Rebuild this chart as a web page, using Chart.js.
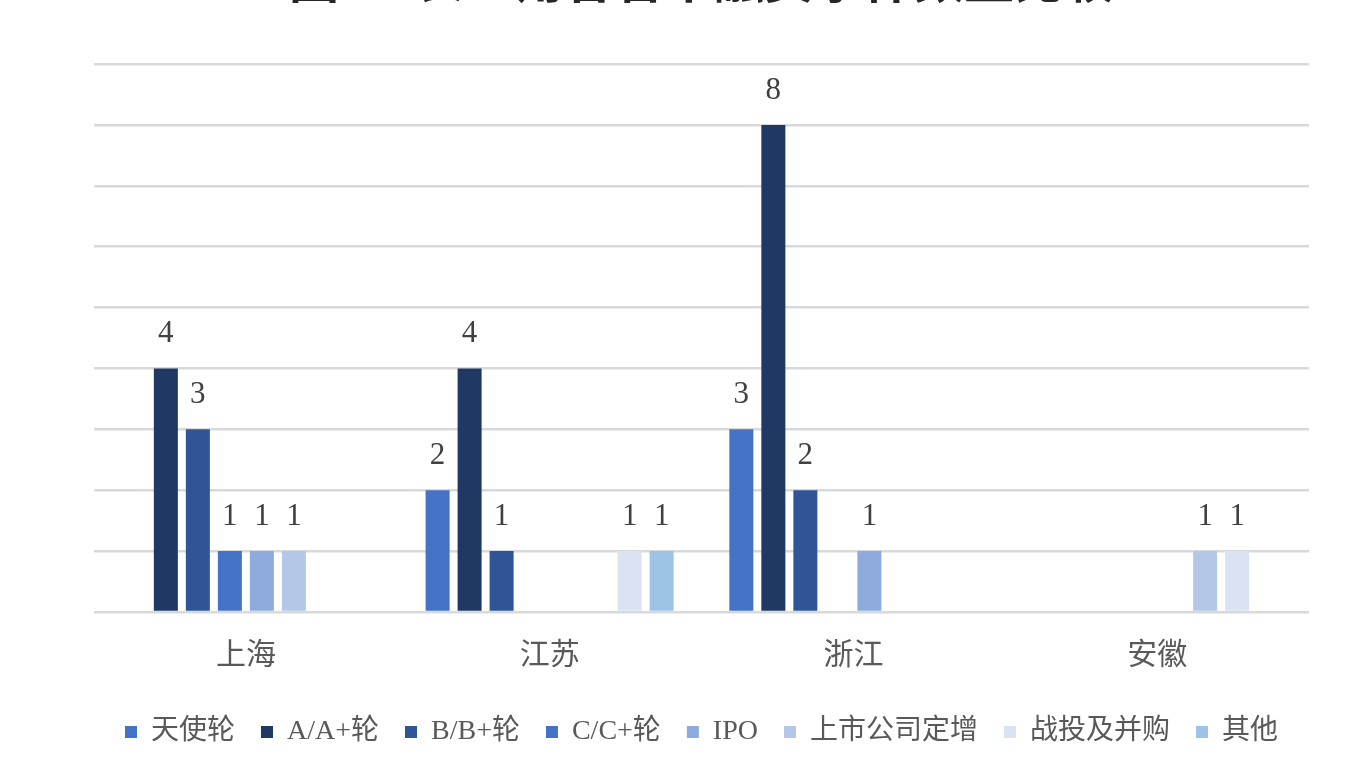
<!DOCTYPE html>
<html>
<head>
<meta charset="utf-8">
<script src="https://cdn.jsdelivr.net/npm/chart.js@4"></script>
<style>
  html, body { margin: 0; padding: 0; background: #ffffff; overflow: hidden; }
  #wrap { position: absolute; left: 0; top: -45px; width: 1371px; height: 814px; }
</style>
</head>
<body>
<div id="wrap"><canvas id="c" width="1371" height="814"></canvas></div>
<script>
const titleText = '图7：长三角各省市融资事件数量比较';
const categories = ['上海', '江苏', '浙江', '安徽'];
const seriesNames = ['天使轮', 'A/A+轮', 'B/B+轮', 'C/C+轮', 'IPO', '上市公司定增', '战投及并购', '其他'];
const angel   = [null, 2, 3, null];
const roundA  = [4, 4, 8, null];
const roundB  = [3, 1, 2, null];
const roundC  = [1, null, null, null];
const ipo     = [1, null, 1, null];
const listedPlacement = [1, null, null, 1];
const strategicMA = [null, 1, null, 1];
const others  = [null, 1, null, null];
const seriesColors = ['#4472C4', '#203864', '#2F5597', '#4472C4', '#8FAADC', '#B4C7E7', '#DAE3F3', '#9DC3E6'];
const allSeries = [angel, roundA, roundB, roundC, ipo, listedPlacement, strategicMA, others];

const FONT = "'Liberation Serif', 'Noto Sans CJK SC', serif";

const labelPlugin = {
  id: 'barLabels',
  afterDatasetsDraw(chart) {
    const ctx = chart.ctx;
    ctx.save();
    ctx.font = "31px " + FONT;
    ctx.fillStyle = '#404040';
    ctx.textAlign = 'center';
    ctx.textBaseline = 'alphabetic';
    chart.data.datasets.forEach((ds, i) => {
      const meta = chart.getDatasetMeta(i);
      meta.data.forEach((el, j) => {
        const v = ds.data[j];
        if (v === null || v === undefined) return;
        ctx.fillText(String(v), el.x, el.y - 26);
      });
    });
    ctx.restore();
  }
};

new Chart(document.getElementById('c'), {
  type: 'bar',
  data: {
    labels: categories,
    datasets: seriesNames.map((n, i) => ({
      label: n,
      data: allSeries[i],
      backgroundColor: seriesColors[i],
      borderWidth: 0,
      categoryPercentage: 0.843,
      barPercentage: 0.75
    }))
  },
  options: {
    responsive: false,
    animation: false,
    devicePixelRatio: 1,
    layout: { padding: { left: 94, right: 62, top: 0, bottom: 13 } },
    plugins: {
      title: {
        display: true,
        text: titleText,
        color: '#262626',
        font: { family: FONT, size: 50 },
        padding: { top: 0, bottom: 49 }
      },
      legend: {
        position: 'bottom',
        labels: {
          boxWidth: 12,
          boxHeight: 12,
          padding: 26,
          color: '#595959',
          font: { family: FONT, size: 28 }
        }
      },
      tooltip: { enabled: false }
    },
    scales: {
      x: {
        grid: { display: false },
        border: { display: false },
        ticks: { color: '#595959', font: { family: FONT, size: 30 }, padding: 18 }
      },
      y: {
        min: 0,
        max: 9,
        ticks: { display: false, stepSize: 1 },
        grid: { color: '#D9D9D9', lineWidth: 2.5, drawTicks: false },
        border: { display: false }
      }
    }
  },
  plugins: [labelPlugin]
});
</script>
</body>
</html>
